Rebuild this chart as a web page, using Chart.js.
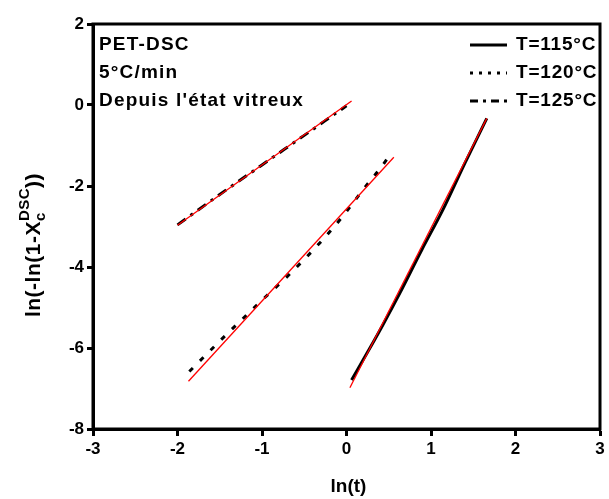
<!DOCTYPE html>
<html>
<head>
<meta charset="utf-8">
<script src="https://cdn.jsdelivr.net/npm/chart.js@4.4.0/dist/chart.umd.min.js"></script>
<style>
  html, body { margin: 0; padding: 0; background: #fff; }
  #wrap { width: 609px; height: 499px; }
</style>
</head>
<body>
<div id="wrap"><canvas id="myChart" width="609" height="499"></canvas></div>
<script>
"use strict";

// ===== données =====
const x115 = [0.06, 0.25, 0.43, 0.63, 0.89, 1.14, 1.40, 1.66];
const y115 = [-6.79, -6.10, -5.43, -4.65, -3.58, -2.59, -1.44, -0.33];

const x120 = [-1.86, -1.5, -1.0, -0.66, -0.27, -0.03, 0.2, 0.39, 0.53];
const y120 = [-6.58, -5.83, -4.82, -4.15, -3.30, -2.71, -2.08, -1.59, -1.19];

const x125 = [-2.0, -1.5, -1.0, -0.5, 0.0];
const y125 = [-2.96, -2.21, -1.48, -0.75, -0.02];

// droites d'ajustement (rouge)
const fit115X = [0.04, 1.66];
const fit115Y = [-6.98, -0.33];
const fit120X = [-1.87, 0.56];
const fit120Y = [-6.82, -1.29];
const fit125X = [-2.0, 0.06];
const fit125Y = [-2.97, 0.10];

const xTicks = [-3, -2, -1, 0, 1, 2, 3];
const yTicks = [-8, -6, -4, -2, 0, 2];

const legendLabels = ["T=115°C", "T=120°C", "T=125°C"];
const noteLines = ["PET-DSC", "5°C/min", "Depuis l'état vitreux"];

const FONT = "'Liberation Sans', Arial, Helvetica, sans-serif";

function pts(xs, ys) {
  return xs.map((x, i) => ({ x: x, y: ys[i] }));
}

const dashes = [[], [5, 10], [10, 6, 3, 6]];
const legendDashes = [[], [3, 6], [8, 5, 3, 5]];

// ===== textes, légende, cadre =====
const decorPlugin = {
  id: "decor",
  afterDraw(chart) {
    const ctx = chart.ctx;
    const a = chart.chartArea;
    ctx.save();
    // cadre
    ctx.strokeStyle = "#000";
    ctx.lineWidth = 3;
    ctx.strokeRect(a.left, a.top, a.right - a.left, a.bottom - a.top);

    // notes en haut à gauche
    ctx.fillStyle = "#000";
    ctx.font = "bold 19px " + FONT;
    ctx.textAlign = "left";
    ctx.textBaseline = "middle";
    ctx.letterSpacing = "1.2px";
    noteLines.forEach((t, i) => ctx.fillText(t, 99, 45 + i * 28));

    // légende
    ctx.letterSpacing = "0.8px";
    legendLabels.forEach((t, i) => {
      const y = 45 + i * 28;
      ctx.beginPath();
      ctx.setLineDash(legendDashes[i]);
      ctx.lineWidth = 3;
      ctx.moveTo(470, y);
      ctx.lineTo(507, y);
      ctx.stroke();
      ctx.setLineDash([]);
      ctx.fillText(t, 516, y);
    });

    // titre axe y avec indice / exposant
    ctx.letterSpacing = "0.5px";
    ctx.translate(33, 245);
    ctx.rotate(-Math.PI / 2);
    const big = "bold 21px " + FONT;
    const small = "bold 15px " + FONT;
    const parts = [
      { t: "ln(-ln(1-X", f: big, dy: 0 },
      { t: "c", f: small, dy: 5, keep: true },
      { t: "DSC", f: small, dy: -11 },
      { t: "))", f: big, dy: 0 }
    ];
    let total = 0;
    let w = [];
    parts.forEach(p => {
      ctx.font = p.f;
      const m = ctx.measureText(p.t).width;
      w.push(m);
      if (!p.keep) total += m;
    });
    let x = -total / 2;
    ctx.textBaseline = "alphabetic";
    parts.forEach((p, i) => {
      ctx.font = p.f;
      ctx.fillText(p.t, x, 7 + p.dy);
      if (!p.keep) x += w[i];
    });
    ctx.restore();

    // titre axe x
    ctx.save();
    ctx.fillStyle = "#000";
    ctx.font = "bold 19px " + FONT;
    ctx.textAlign = "center";
    ctx.textBaseline = "middle";
    ctx.fillText("ln(t)", (a.left + a.right) / 2 + 2, 487);
    ctx.restore();
  }
};

const ctx = document.getElementById("myChart").getContext("2d");
new Chart(ctx, {
  type: "scatter",
  data: {
    datasets: [
      { data: pts(fit115X, fit115Y), borderColor: "#ff0000", borderWidth: 1.3, order: 0 },
      { data: pts(fit120X, fit120Y), borderColor: "#ff0000", borderWidth: 1.3, order: 0 },
      { data: pts(fit125X, fit125Y), borderColor: "#ff0000", borderWidth: 1.3, order: 0 },
      { label: legendLabels[0], data: pts(x115, y115), borderColor: "#000", borderWidth: 3,
        borderDash: dashes[0], cubicInterpolationMode: "monotone", order: 1 },
      { label: legendLabels[1], data: pts(x120, y120), borderColor: "#000", borderWidth: 3,
        borderDash: dashes[1], cubicInterpolationMode: "monotone", order: 1 },
      { label: legendLabels[2], data: pts(x125, y125), borderColor: "#000", borderWidth: 3,
        borderDash: dashes[2], cubicInterpolationMode: "monotone", order: 1 }
    ]
  },
  options: {
    responsive: false,
    animation: false,
    showLine: true,
    elements: { point: { radius: 0 } },
    layout: { padding: { top: 24, right: 9, left: 0, bottom: 0 } },
    plugins: {
      legend: { display: false },
      tooltip: { enabled: false }
    },
    scales: {
      x: {
        type: "linear",
        min: -3, max: 3,
        afterBuildTicks: s => { s.ticks = xTicks.map(v => ({ value: v })); },
        afterFit: s => { s.height = 70; s.paddingLeft = 0; s.paddingRight = 0; },
        ticks: { color: "#000", font: { family: FONT, size: 17, weight: "bold" }, padding: 3, maxRotation: 0 },
        grid: { drawOnChartArea: false, drawTicks: true, tickLength: 7, tickWidth: 3, color: "#000" },
        border: { display: true, width: 3, color: "#000" }
      },
      y: {
        type: "linear",
        min: -8, max: 2,
        afterBuildTicks: s => { s.ticks = yTicks.map(v => ({ value: v })); },
        afterFit: s => { s.width = 93; s.paddingTop = 0; s.paddingBottom = 0; },
        ticks: { color: "#000", font: { family: FONT, size: 17, weight: "bold" }, padding: 3 },
        grid: { drawOnChartArea: false, drawTicks: true, tickLength: 6, tickWidth: 3, color: "#000" },
        border: { display: true, width: 3, color: "#000" }
      }
    }
  },
  plugins: [decorPlugin]
});
</script>
</body>
</html>
